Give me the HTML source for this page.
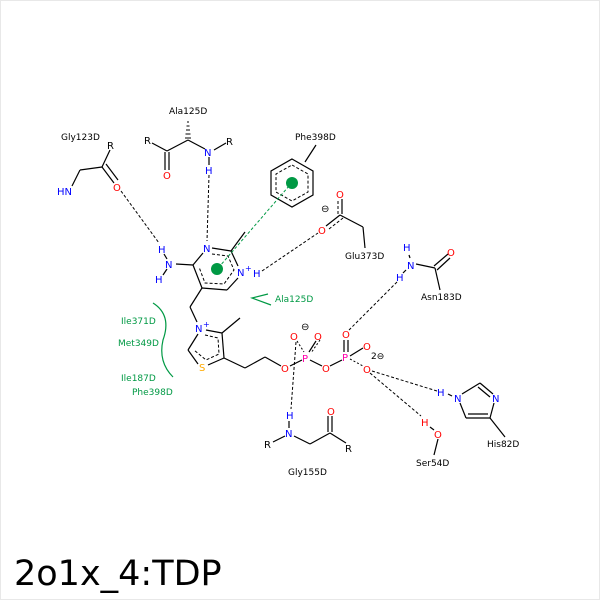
<!DOCTYPE html>
<html><head><meta charset="utf-8"><style>
html,body{margin:0;padding:0;background:#fff}
svg{display:block}
text{font-family:"DejaVu Sans","Liberation Sans",sans-serif;}
</style></head><body>
<svg width="600" height="600" viewBox="0 0 600 600" xmlns="http://www.w3.org/2000/svg">
<rect x="0.5" y="0.5" width="599" height="599" fill="#fff" stroke="#e8e8e8"/>
<g stroke="#000" stroke-width="1.2" fill="none">
<line x1="80" y1="170" x2="102" y2="167"/>
<line x1="102" y1="167" x2="110" y2="150"/>
<line x1="102" y1="167" x2="114" y2="183"/>
<line x1="106" y1="164" x2="118" y2="180"/>
<line x1="80" y1="170" x2="72" y2="186"/>
<line x1="152" y1="143" x2="167" y2="151"/>
<line x1="167" y1="151" x2="188" y2="140"/>
<line x1="165" y1="152" x2="165" y2="170"/>
<line x1="169" y1="152" x2="169" y2="170"/>
<line x1="188" y1="140" x2="205" y2="149"/>
<line x1="214" y1="150" x2="226" y2="143"/>
<line x1="209" y1="157" x2="209" y2="165"/>
<polygon points="292,159 313,171 313,195 292,207 271,195 271,171"/>
<line x1="305" y1="162" x2="316" y2="145"/>
<line x1="326" y1="226" x2="340" y2="215"/>
<line x1="340" y1="215" x2="363" y2="227"/>
<line x1="363" y1="227" x2="365" y2="248"/>
<line x1="342" y1="214" x2="342" y2="199"/>
<line x1="212" y1="248" x2="231" y2="251"/>
<line x1="231" y1="251" x2="238" y2="266"/>
<line x1="231" y1="251" x2="245" y2="232"/>
<line x1="238" y1="278" x2="227" y2="290"/>
<line x1="227" y1="290" x2="202" y2="288"/>
<line x1="202" y1="288" x2="193" y2="265"/>
<line x1="193" y1="265" x2="203" y2="253"/>
<line x1="193" y1="265" x2="176" y2="264"/>
<line x1="167" y1="259" x2="164" y2="254"/>
<line x1="167" y1="269" x2="163" y2="275"/>
<line x1="202" y1="288" x2="190" y2="307"/>
<line x1="190" y1="307" x2="197" y2="322"/>
<line x1="206" y1="330" x2="222" y2="333"/>
<line x1="222" y1="333" x2="240" y2="318"/>
<line x1="222" y1="333" x2="224" y2="358"/>
<line x1="224" y1="358" x2="208" y2="365"/>
<line x1="198" y1="364" x2="188" y2="350"/>
<line x1="188" y1="350" x2="198" y2="334"/>
<line x1="224" y1="358" x2="245" y2="368"/>
<line x1="245" y1="368" x2="265" y2="357"/>
<line x1="265" y1="357" x2="281" y2="366"/>
<line x1="273" y1="442" x2="285" y2="436"/>
<line x1="294" y1="436" x2="310" y2="444"/>
<line x1="310" y1="444" x2="330" y2="433"/>
<line x1="328" y1="432" x2="328" y2="416"/>
<line x1="332" y1="432" x2="332" y2="416"/>
<line x1="330" y1="433" x2="346" y2="443"/>
<line x1="289" y1="421" x2="289" y2="428"/>
<line x1="416" y1="264" x2="435" y2="268"/>
<line x1="434" y1="266" x2="448" y2="254"/>
<line x1="437" y1="270" x2="450" y2="258"/>
<line x1="435" y1="268" x2="440" y2="290"/>
<line x1="409" y1="255" x2="410" y2="258"/>
<line x1="406" y1="270" x2="403" y2="273"/>
<line x1="448" y1="394" x2="452" y2="396"/>
<line x1="462" y1="394" x2="480" y2="383"/>
<line x1="480" y1="383" x2="493" y2="394"/>
<line x1="478" y1="387" x2="490" y2="397"/>
<line x1="494" y1="403" x2="490" y2="418"/>
<line x1="490" y1="418" x2="466" y2="418"/>
<line x1="488" y1="414" x2="468" y2="414"/>
<line x1="466" y1="418" x2="460" y2="403"/>
<line x1="490" y1="418" x2="505" y2="437"/>
<line x1="430" y1="427" x2="434" y2="430"/>
<line x1="438" y1="439" x2="434" y2="455"/>
</g>
<g stroke="#000" stroke-width="1" fill="none" stroke-dasharray="3,2">
<polygon points="292,165 308,174 308,192 292,201 276,192 276,174"/>
<polyline points="212,254 228,256 234,270 224,284 205,283 199,267"/>
<polyline points="205,335 218,338 219,354 206,360 194,350"/>
<line x1="329" y1="229" x2="343" y2="218"/>
<line x1="338" y1="214" x2="338" y2="199"/>
</g>
<g stroke="#000" stroke-width="1">
<line x1="187" y1="122" x2="189" y2="122"/><line x1="186.5" y1="126" x2="189.5" y2="126"/><line x1="186" y1="130" x2="190" y2="130"/><line x1="185.5" y1="134" x2="190.5" y2="134"/><line x1="185" y1="138" x2="191" y2="138"/>
</g>
<g stroke="#000" stroke-width="1.2">
<line x1="290" y1="366" x2="302" y2="360"/>
<line x1="310" y1="360" x2="322" y2="366"/>
<line x1="330" y1="366" x2="342" y2="360"/>
<line x1="344" y1="340" x2="344" y2="352"/>
<line x1="348" y1="340" x2="348" y2="352"/>
<line x1="350" y1="356" x2="363" y2="348"/>
<line x1="316" y1="341" x2="309" y2="352"/>
</g>
<g stroke="#000" stroke-width="1" stroke-dasharray="2,2">
<line x1="297" y1="341" x2="304" y2="352"/>
<line x1="350" y1="359" x2="363" y2="366"/>
<line x1="320" y1="340" x2="311" y2="353"/>
</g>
<g stroke="#000" stroke-width="1" stroke-dasharray="3,2" fill="none">
<line x1="121" y1="191" x2="159" y2="243"/>
<line x1="209" y1="175" x2="207" y2="241"/>
<line x1="262" y1="271" x2="318" y2="233"/>
<line x1="397" y1="282" x2="349" y2="330"/>
<line x1="296" y1="342" x2="291" y2="409"/>
<line x1="372" y1="371" x2="437" y2="391"/>
<line x1="370" y1="373" x2="421" y2="416"/>
</g>
<line x1="289" y1="186" x2="219" y2="267" stroke="#009944" stroke-width="1" stroke-dasharray="3,2"/>
<circle cx="292" cy="183" r="6" fill="#009944"/>
<circle cx="217" cy="269" r="6" fill="#009944"/>
<path d="M153,303 Q172,315 163,340 Q158,362 173,377" stroke="#009944" stroke-width="1.2" fill="none"/>
<path d="M271,305 L252,298 L268,294" stroke="#009944" stroke-width="1.2" fill="none"/>
<g font-size="9" fill="#009944">
<text x="275" y="302">Ala125D</text>
<text x="121" y="324">Ile371D</text>
<text x="118" y="346">Met349D</text>
<text x="121" y="381">Ile187D</text>
<text x="132" y="395">Phe398D</text>
</g>
<g font-size="9" fill="#000">
<text x="61" y="140">Gly123D</text>
<text x="169" y="114">Ala125D</text>
<text x="295" y="140">Phe398D</text>
<text x="345" y="259">Glu373D</text>
<text x="421" y="300">Asn183D</text>
<text x="487" y="447">His82D</text>
<text x="416" y="466">Ser54D</text>
<text x="288" y="475">Gly155D</text>
<text x="107" y="149" font-size="10">R</text>
<text x="144" y="144" font-size="10">R</text>
<text x="226" y="145" font-size="10">R</text>
<text x="264" y="448" font-size="10">R</text>
<text x="345" y="452" font-size="10">R</text>
<text x="371" y="359" font-size="9">2⊖</text>
<text x="301" y="330" font-size="10">⊖</text>
<text x="321" y="212" font-size="10">⊖</text>
</g>
<g font-size="10" fill="#0000ff">
<text x="57" y="195">HN</text>
<text x="204" y="156">N</text>
<text x="205" y="174">H</text>
<text x="203" y="252">N</text>
<text x="237" y="276">N</text><text x="245" y="271" font-size="8">+</text>
<text x="253" y="277">H</text>
<text x="165" y="268">N</text>
<text x="158" y="253">H</text>
<text x="155" y="283">H</text>
<text x="195" y="332">N</text><text x="203" y="327" font-size="8">+</text>
<text x="285" y="437">N</text>
<text x="286" y="419">H</text>
<text x="403" y="251">H</text>
<text x="407" y="269">N</text>
<text x="396" y="281">H</text>
<text x="437" y="396">H</text>
<text x="454" y="402">N</text>
<text x="492" y="402">N</text>
</g>
<g font-size="10" fill="#ff0000">
<text x="113" y="191">O</text>
<text x="163" y="179">O</text>
<text x="336" y="198">O</text>
<text x="318" y="234">O</text>
<text x="447" y="256">O</text>
<text x="327" y="415">O</text>
<text x="281" y="372">O</text>
<text x="290" y="340">O</text>
<text x="314" y="340">O</text>
<text x="322" y="372">O</text>
<text x="342" y="338">O</text>
<text x="363" y="350">O</text>
<text x="363" y="373">O</text>
<text x="421" y="426">H</text>
<text x="434" y="438">O</text>
</g>
<g font-size="10" fill="#ff00aa">
<text x="302" y="362">P</text>
<text x="342" y="361">P</text>
</g>
<text x="199" y="371" font-size="10" fill="#ffaa00">S</text>
<text x="14" y="585" font-size="35" fill="#000">2o1x_4:TDP</text>
</svg>
</body></html>
